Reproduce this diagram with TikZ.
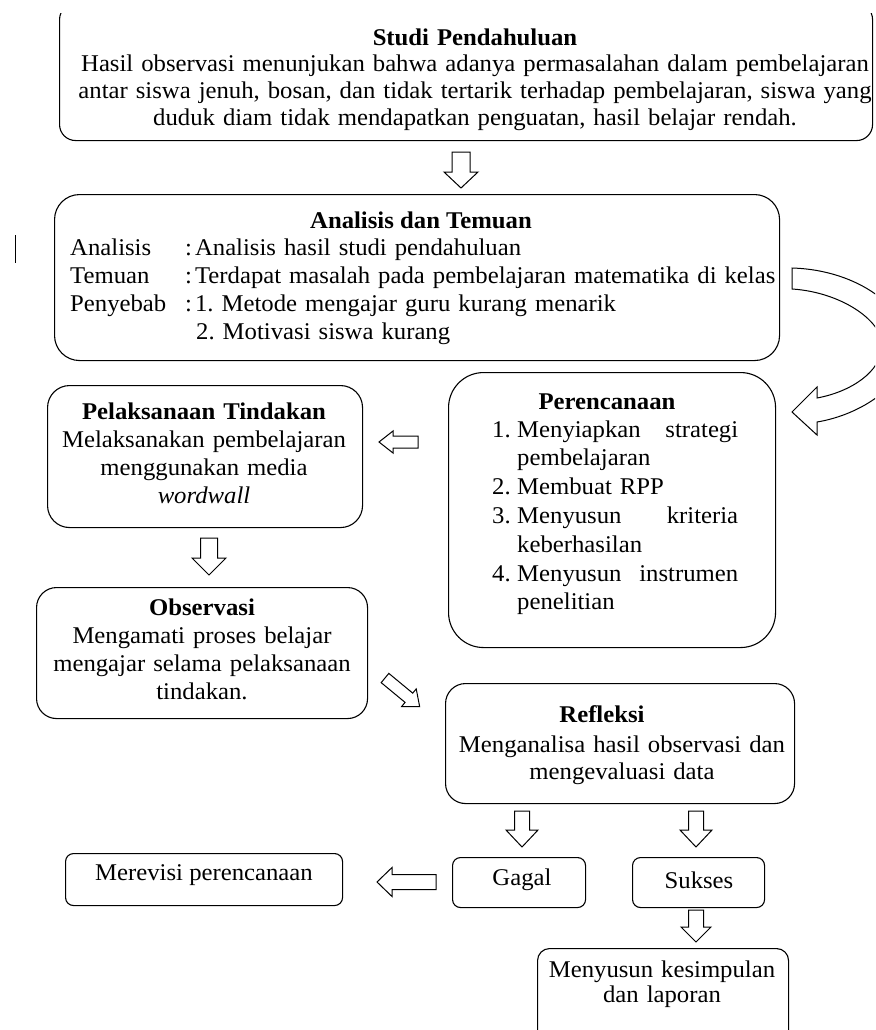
\documentclass[tikz,border=0pt]{standalone}
\usepackage{fontspec}
\setmainfont{Liberation Serif}[FakeStretch=1.03]
\usetikzlibrary{calc}
\frenchspacing
\newcommand\blockarr[6]{\draw[arrowline, shift={(#1)}, rotate=#2] (0,-#4) -- (#3-#6,-#4) -- (#3-#6,-#5) -- (#3,0) -- (#3-#6,#5) -- (#3-#6,#4) -- (0,#4) -- cycle;}
\newcommand\colsep{:\hspace{3pt}}
\begin{document}
\begin{tikzpicture}[x=1pt,y=-1pt,
  box/.style={draw=black, line width=1.1pt, rounded corners=#1, inner sep=0pt, anchor=north west},
  box/.default=15pt,
  arrowline/.style={draw=black, line width=1pt, fill=white, line join=miter},
  txt/.style={inner sep=0pt, font=\fontsize{24}{27}\selectfont\frenchspacing, align=center},
]
\useasboundingbox (0,0) rectangle (875,1030);
\clip (0,0) rectangle (875,1030);
\fill[white] (0,0) rectangle (875,1030);

% boxes
\begin{scope}
\clip (0,14) rectangle (875,1030);
\node[box=16pt, minimum width=813pt, minimum height=137pt] (studi) at (59,3) {};
\end{scope}
\node[box=25pt, minimum width=725pt, minimum height=166pt] (analisis) at (54,194) {};
\node[box=22pt, minimum width=315pt, minimum height=142pt] (pelak) at (47,385) {};
\node[box=35pt, minimum width=327pt, minimum height=275pt] (peren) at (448,372) {};
\node[box=20pt, minimum width=331pt, minimum height=131pt] (obs) at (36,587) {};
\node[box=20pt, minimum width=349pt, minimum height=120pt] (refl) at (445,683) {};
\node[box=8pt, minimum width=277pt, minimum height=52pt] (merevisi) at (65,853) {};
\node[box=8pt, minimum width=133pt, minimum height=50pt] (gagal) at (452,857) {};
\node[box=8pt, minimum width=132pt, minimum height=50pt] (sukses) at (632,857) {};
\node[box=12pt, minimum width=251pt, minimum height=100pt] (menyusun) at (537,948) {};

% texts
\node[txt, anchor=north, text width=840pt, font=\fontsize{24}{26.7}\selectfont\frenchspacing] (studiT) at (475,26.3)
  {\strut\textbf{Studi Pendahuluan}\\
   Hasil observasi menunjukan bahwa adanya permasalahan dalam pembelajaran\\
   antar siswa jenuh, bosan, dan tidak tertarik terhadap pembelajaran, siswa yang\\
   duduk diam tidak mendapatkan penguatan, hasil belajar rendah.};

\node[txt, anchor=base] (anT) at (421,228) {\textbf{Analisis dan Temuan}};
\node[txt, align=left, anchor=north west, text width=740pt, font=\fontsize{24}{28}\selectfont\frenchspacing] (anR) at (70,235.4)
  {\strut\makebox[115pt][l]{Analisis}\colsep Analisis hasil studi pendahuluan\\
   \makebox[115pt][l]{Temuan}\colsep Terdapat masalah pada pembelajaran matematika di kelas\\
   \makebox[115pt][l]{Penyebab}\colsep 1. Metode mengajar guru kurang menarik\\
   \hspace*{126pt}2. Motivasi siswa kurang};

\node[txt, anchor=north, text width=310pt, font=\fontsize{24}{28.3}\selectfont\frenchspacing] (peT) at (204,399)
  {\strut\textbf{Pelaksanaan Tindakan}\\ Melaksanakan pembelajaran\\ menggunakan media\\ \textit{wordwall}};

\node[txt, anchor=base] (prT) at (607,409) {\textbf{Perencanaan}};
\node[txt, align=left, anchor=north west, text width=246pt, font=\fontsize{24}{28.8}\selectfont\frenchspacing] (prI) at (492,416.8)
  {\strut\makebox[25pt][l]{1.}Menyiapkan\hfill strategi\\
   \hspace*{25pt}pembelajaran\\
   \makebox[25pt][l]{2.}Membuat RPP\\
   \makebox[25pt][l]{3.}Menyusun\hfill kriteria\\
   \hspace*{25pt}keberhasilan\\
   \makebox[25pt][l]{4.}Menyusun\hfill instrumen\\
   \hspace*{25pt}penelitian};

\node[txt, anchor=north, text width=330pt, font=\fontsize{24}{28.3}\selectfont\frenchspacing] (obT) at (202,595)
  {\strut\textbf{Observasi}\\ Mengamati proses belajar\\ mengajar selama pelaksanaan\\ tindakan.};

\node[txt, anchor=base] (rfT) at (602,722) {\textbf{Refleksi}};
\node[txt, anchor=north, text width=345pt] (rfB) at (622,733.1)
  {\strut Menganalisa hasil observasi dan\\ mengevaluasi data};

\node[txt, anchor=base] (mrT) at (204,880) {Merevisi perencanaan};
\node[txt, anchor=base] (ggT) at (522,885) {Gagal};
\node[txt, anchor=base] (skT) at (699,888) {Sukses};
\node[txt, anchor=north, text width=250pt, font=\fontsize{24}{23.5}\selectfont\frenchspacing] (mnT) at (662,960.5)
  {\strut Menyusun kesimpulan\\ dan laporan};

% stray mark
\draw[line width=1pt] (15,235) -- (15,263);

% block arrows
\coordinate (a1) at (461,152);
\coordinate (a3) at (418,442);
\coordinate (a4) at (209,538);
\coordinate (a5) at (385,678);
\coordinate (a6) at (522,811);
\coordinate (a7) at (696,811);
\coordinate (a8) at (436,882);
\coordinate (a9) at (696,910);
\blockarr{a1}{-90}{36}{9}{17}{16}
\blockarr{a3}{180}{39}{6}{11}{14}
\blockarr{a4}{-90}{37}{8.5}{17}{17}
\blockarr{a5}{-39.6}{45}{6}{11.5}{14}
\blockarr{a6}{-90}{36}{7.5}{16}{17}
\blockarr{a7}{-90}{36}{7.5}{16}{17}
\blockarr{a8}{180}{59}{7.5}{14.5}{15}
\blockarr{a9}{-90}{32}{7.5}{15}{15}

% curved arrow from Analisis to Perencanaan
\draw[arrowline] (792,268) .. controls (860,270) and (908,310) .. (908,345)
  .. controls (908,385) and (860,415) .. (817,422)
  -- (817,435) -- (792,412) -- (817,387) -- (817,398)
  .. controls (850,392) and (882,372) .. (882,345)
  .. controls (882,320) and (840,292) .. (792,289) -- cycle;
\end{tikzpicture}
\end{document}
